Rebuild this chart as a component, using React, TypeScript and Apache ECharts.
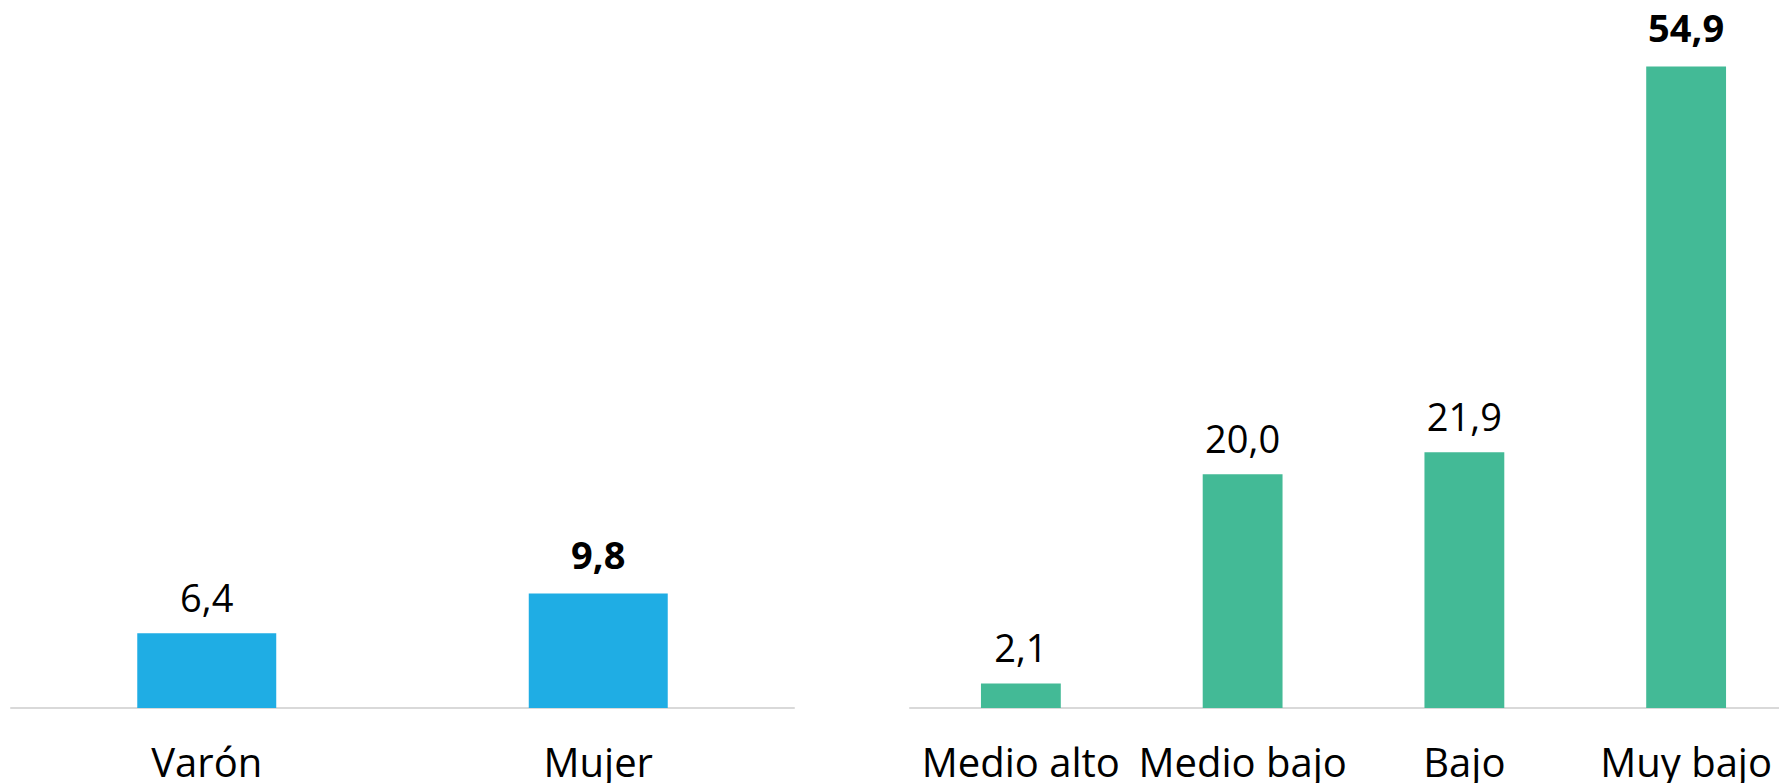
import React, { useEffect, useRef } from "react";
import * as echarts from "echarts";

const sexCategories = ["Varón", "Mujer"];
const sexValues = [6.4, 9.8];
const sexBold = [false, true];

const levelCategories = ["Medio alto", "Medio bajo", "Bajo", "Muy bajo"];
const levelValues = [2.1, 20.0, 21.9, 54.9];
const levelBold = [false, false, false, true];

const FONT = "'Open Sans', 'Noto Sans', sans-serif";
const BLUE = "#1FADE4";
const GREEN = "#43BA96";

const fmt = (v: number) => v.toFixed(1).replace(".", ",");

function buildData(values: number[], bold: boolean[], color: string) {
  return values.map((v, i) => ({
    value: v,
    itemStyle: { color },
    label: bold[i] ? { fontWeight: "bold", distance: 21 } : { fontWeight: "normal", distance: 17 },
  }));
}

export default function App() {
  const ref = useRef<HTMLDivElement>(null);
  useEffect(() => {
    if (!ref.current) return;
    const chart = echarts.init(ref.current, undefined, { renderer: "svg" });
    const axisCommon = {
      type: "category" as const,
      axisLine: { show: true, lineStyle: { color: "#D9D9D9", width: 2 } },
      axisTick: { show: false },
      axisLabel: {
        color: "#000",
        fontSize: 40,
        fontFamily: FONT,
        margin: 33,
        interval: 0,
      },
    };
    const yCommon = {
      type: "value" as const,
      min: 0,
      max: 60,
      show: false,
      splitLine: { show: false },
    };
    const labelCommon = {
      show: true,
      position: "top" as const,
      distance: 17,
      color: "#000",
      fontSize: 38,
      fontFamily: FONT,
      formatter: (p: any) => fmt(p.value),
    };
    chart.setOption({
      animation: false,
      grid: [
        { left: 11, width: 783, top: 7, bottom: 75, containLabel: false, outerBoundsMode: "none" },
        { left: 910, width: 887, top: 7, bottom: 75, containLabel: false, outerBoundsMode: "none" },
      ],
      xAxis: [
        { ...axisCommon, gridIndex: 0, data: sexCategories },
        { ...axisCommon, gridIndex: 1, data: levelCategories },
      ],
      yAxis: [
        { ...yCommon, gridIndex: 0 },
        { ...yCommon, gridIndex: 1 },
      ],
      series: [
        {
          type: "bar",
          xAxisIndex: 0,
          yAxisIndex: 0,
          barWidth: "35.5%",
          data: buildData(sexValues, sexBold, BLUE),
          label: labelCommon,
        },
        {
          type: "bar",
          xAxisIndex: 1,
          yAxisIndex: 1,
          barWidth: "36%",
          data: buildData(levelValues, levelBold, GREEN),
          label: labelCommon,
        },
      ],
    });
    return () => chart.dispose();
  }, []);
  return (
    <div
      ref={ref}
      style={{ width: 1779, height: 783, position: "absolute", left: 0, top: 0, background: "#fff" }}
    />
  );
}
